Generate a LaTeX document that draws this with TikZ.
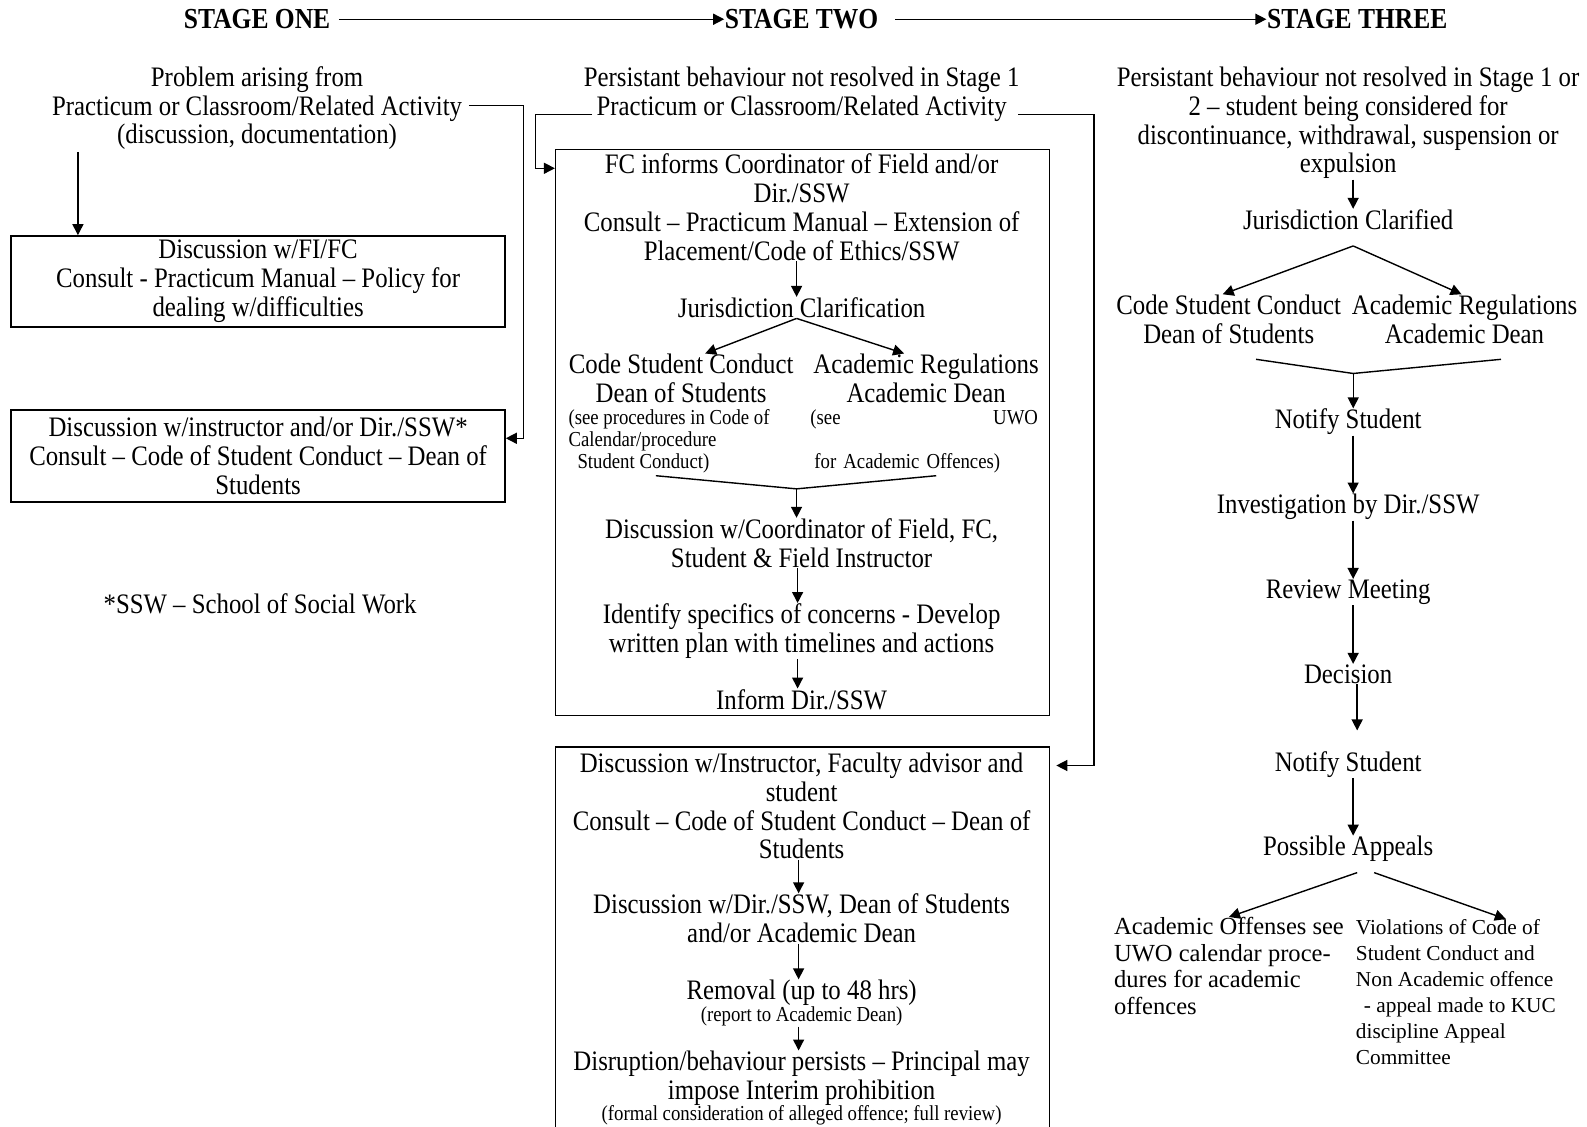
\documentclass[tikz,border=0pt]{standalone}
\usepackage{fontspec}
\setmainfont{Liberation Serif}[FakeStretch=0.88]
\newfontfamily\widefont{Liberation Serif}
\usetikzlibrary{arrows.meta}
\newcommand\mainsz{\fontsize{14.1}{14.4}\selectfont}
\newcommand\smallsz{\fontsize{10.66}{10.9}\selectfont}
\newcommand\stagesz{\fontsize{14.5}{16}\selectfont\bfseries}

\begin{document}
\begin{tikzpicture}[x=0.50606pt,y=-0.50606pt,line width=0.7pt,>={Triangle[length=5.5pt,width=5.5pt]},
	txt/.style={align=center,inner sep=0pt,font=\mainsz,yshift=-1.5pt},
	sml/.style={align=center,inner sep=0pt,font=\smallsz},
	stage/.style={inner sep=0pt,font=\stagesz},
	box/.style={draw,minimum width=247pt,align=center,inner sep=0pt,font=\mainsz}]
	\useasboundingbox (0,0) rectangle (1568,1113);

	\node[stage] (s1) at (254,19) {STAGE ONE};
	\node[stage] (s2) at (792,19) {STAGE TWO};
	\node[stage] (s3) at (1341,19) {STAGE THREE};
	\draw[->] ([xshift=4pt]s1.east) -- (s2.west);
	\draw[->] ([xshift=8pt]s2.east) -- (s3.west);

	\node[txt] (p1) at (254,104) {Problem arising from\\Practicum or Classroom/Related Activity\\(discussion, documentation)};
	\node[box,minimum height=45.5pt,yshift=-1pt] (b1) at (255,276) {Discussion w/FI/FC\\Consult - Practicum Manual – Policy for\\dealing w/difficulties};
	\node[box,minimum height=46pt] (b2) at (255,450.5) {Discussion w/instructor and/or Dir./SSW*\\Consult – Code of Student Conduct – Dean of\\Students};
	\node[txt] (ssw) at (257,594) {*SSW – School of Social Work};
	\coordinate (a1) at (77,150);
	\draw[->] (a1) -- (a1 |- b1.north);
	\coordinate (r1) at (517,104);
	\draw[->] ([xshift=3pt,yshift=1.5pt]p1.east) -- (r1) |- ([yshift=8.85pt]b2.east);

	\node[txt] (p2) at (792,90) {Persistant behaviour not resolved in Stage 1\\Practicum or Classroom/Related Activity};
	\node[box,minimum height=282.9pt] (b3) at (793,427.5) {};
	\node[box,minimum height=195.3pt] (b4) at (793,931) {};
	\coordinate (l2) at (585,113);
	\coordinate (l2c) at (529,113);
	\draw[->] (l2) -- (l2c) |- ([yshift=-9.6pt]b3.north west);
	\coordinate (r2) at (1006,113);
	\coordinate (r2c) at (1081,113);
	\draw[->] (r2) -- (r2c) |- ([yshift=-9.6pt,xshift=3pt]b4.north east);

	\node[txt] (fc) at (792,202) {FC informs Coordinator of Field and/or\\Dir./SSW\\Consult – Practicum Manual – Extension of\\Placement/Code of Ethics/SSW};
	\node[txt] (jc2) at (792,301) {Jurisdiction Clarification};
	\node[txt] (csc2) at (673,371) {Code Student Conduct\\Dean of Students};
	\node[txt] (ar2) at (915,371) {Academic Regulations\\Academic Dean};
	\node[sml,align=left,anchor=north west] (cn2) at (561,404) {(see procedures in Code of\\Calendar/procedure\\\hspace*{4.5pt}Student Conduct)};
	\node[sml,align=left,anchor=north west,text width=113.8pt] (an2) at (800,404) {(see\hfill UWO\\\mbox{}\\\hspace*{2pt}for Academic Offences)};
	\draw[->] ([xshift=-2.5pt]fc.south) -- ([xshift=-2.5pt]jc2.north);
	\draw[->] ([xshift=-2.5pt]jc2.south) -- ([xshift=12pt]csc2.north);
	\draw[->] ([xshift=-2.5pt]jc2.south) -- ([xshift=-11pt]ar2.north);
	\coordinate (ml2) at (648,470);
	\coordinate (mr2) at (925,470);
	\coordinate (m2) at (787,483);
	\draw (ml2) -- (m2) -- (mr2);
	\node[txt] (dc) at (792,533.5) {Discussion w/Coordinator of Field, FC,\\Student \& Field Instructor};
	\node[txt] (id) at (792,620.5) {Identify specifics of concerns - Develop\\written plan with timelines and actions};
	\node[txt] (inf) at (792,688) {Inform Dir./SSW};
	\draw[->] (m2) -- (m2 |- dc.north);
	\draw[->] ([xshift=-2pt]dc.south) -- ([xshift=-2pt]id.north);
	\draw[->] ([xshift=-2pt]id.south) -- ([xshift=-2pt]inf.north);

	\node[txt] (di) at (792,793.5) {Discussion w/Instructor, Faculty advisor and\\student\\Consult – Code of Student Conduct – Dean of\\Students};
	\node[txt] (dd) at (792,904.5) {Discussion w/Dir./SSW, Dean of Students\\and/or Academic Dean};
	\node[txt] (rm) at (792,978) {Removal (up to 48 hrs)};
	\node[sml,yshift=-1pt] (rp) at (792,1002) {(report to Academic Dean)};
	\node[txt] (dp) at (792,1062.5) {Disruption/behaviour persists – Principal may\\impose Interim prohibition};
	\node[sml,yshift=-1pt] (fr) at (792,1100) {(formal consideration of alleged offence; full review)};
	\draw[->] ([xshift=-1.5pt]di.south) -- ([xshift=-1.5pt]dd.north);
	\draw[->] ([xshift=-1.5pt]dd.south) -- ([xshift=-1.5pt]rm.north);
	\draw[->] ([xshift=-1.5pt]rp.south) -- ([xshift=-1.5pt]dp.north);

	\node[txt] (p3) at (1332,118.5) {Persistant behaviour not resolved in Stage 1 or\\2 – student being considered for\\discontinuance, withdrawal, suspension or\\expulsion};
	\node[txt] (jc3) at (1332,214) {Jurisdiction Clarified};
	\draw[->] ([xshift=2.5pt]p3.south) -- ([xshift=2.5pt]jc3.north);
	\coordinate (ap3) at (1337,243);
	\node[txt] (csc3) at (1214,312.5) {Code Student Conduct\\Dean of Students};
	\node[txt] (ar3) at (1447,312.5) {Academic Regulations\\Academic Dean};
	\draw[->] (ap3) -- ([xshift=-3pt]csc3.north);
	\draw[->] (ap3) -- ([xshift=-1.5pt]ar3.north);
	\coordinate (ml3) at (1241,355);
	\coordinate (mr3) at (1483,355);
	\coordinate (m3) at (1337,369);
	\draw (ml3) -- (m3) -- (mr3);
	\node[txt] (ns1) at (1332,414) {Notify Student};
	\node[txt] (iv) at (1332,498) {Investigation by Dir./SSW};
	\node[txt] (rv) at (1332,582) {Review Meeting};
	\node[txt] (dcs) at (1332,663) {Decision};
	\node[txt] (ns2) at (1332,752) {Notify Student};
	\node[txt] (pa) at (1332,836) {Possible Appeals};
	\draw[->] (m3) -- (m3 |- ns1.north);
	\foreach \a/\b in {ns1/iv,iv/rv,rv/dcs,ns2/pa}{
		\draw[->] ([xshift=2.5pt]\a.south) -- ([xshift=2.5pt]\b.north);
	}
	\draw[->] ([xshift=4.5pt]dcs.south) -- ([xshift=4.5pt,yshift=10pt]ns2.north);
	\node[align=left,inner sep=0pt,anchor=north west,font=\widefont\fontsize{12.27}{13.2}\selectfont] (ao) at (1100,906) {Academic Offenses see\\UWO calendar proce-\\dures for academic\\offences};
	\node[align=left,inner sep=0pt,anchor=north west,font=\widefont\fontsize{10.66}{13}\selectfont] (vc) at (1339,908) {Violations of Code of\\Student Conduct and\\Non Academic offence\\\hspace*{4pt}- appeal made to KUC\\discipline Appeal\\Committee};
	\draw[->] ([xshift=4.5pt,yshift=-5pt]pa.south) -- (ao.north);
	\draw[->] ([xshift=13pt,yshift=-5pt]pa.south) -- ([xshift=25pt]vc.north);
\end{tikzpicture}
\end{document}
